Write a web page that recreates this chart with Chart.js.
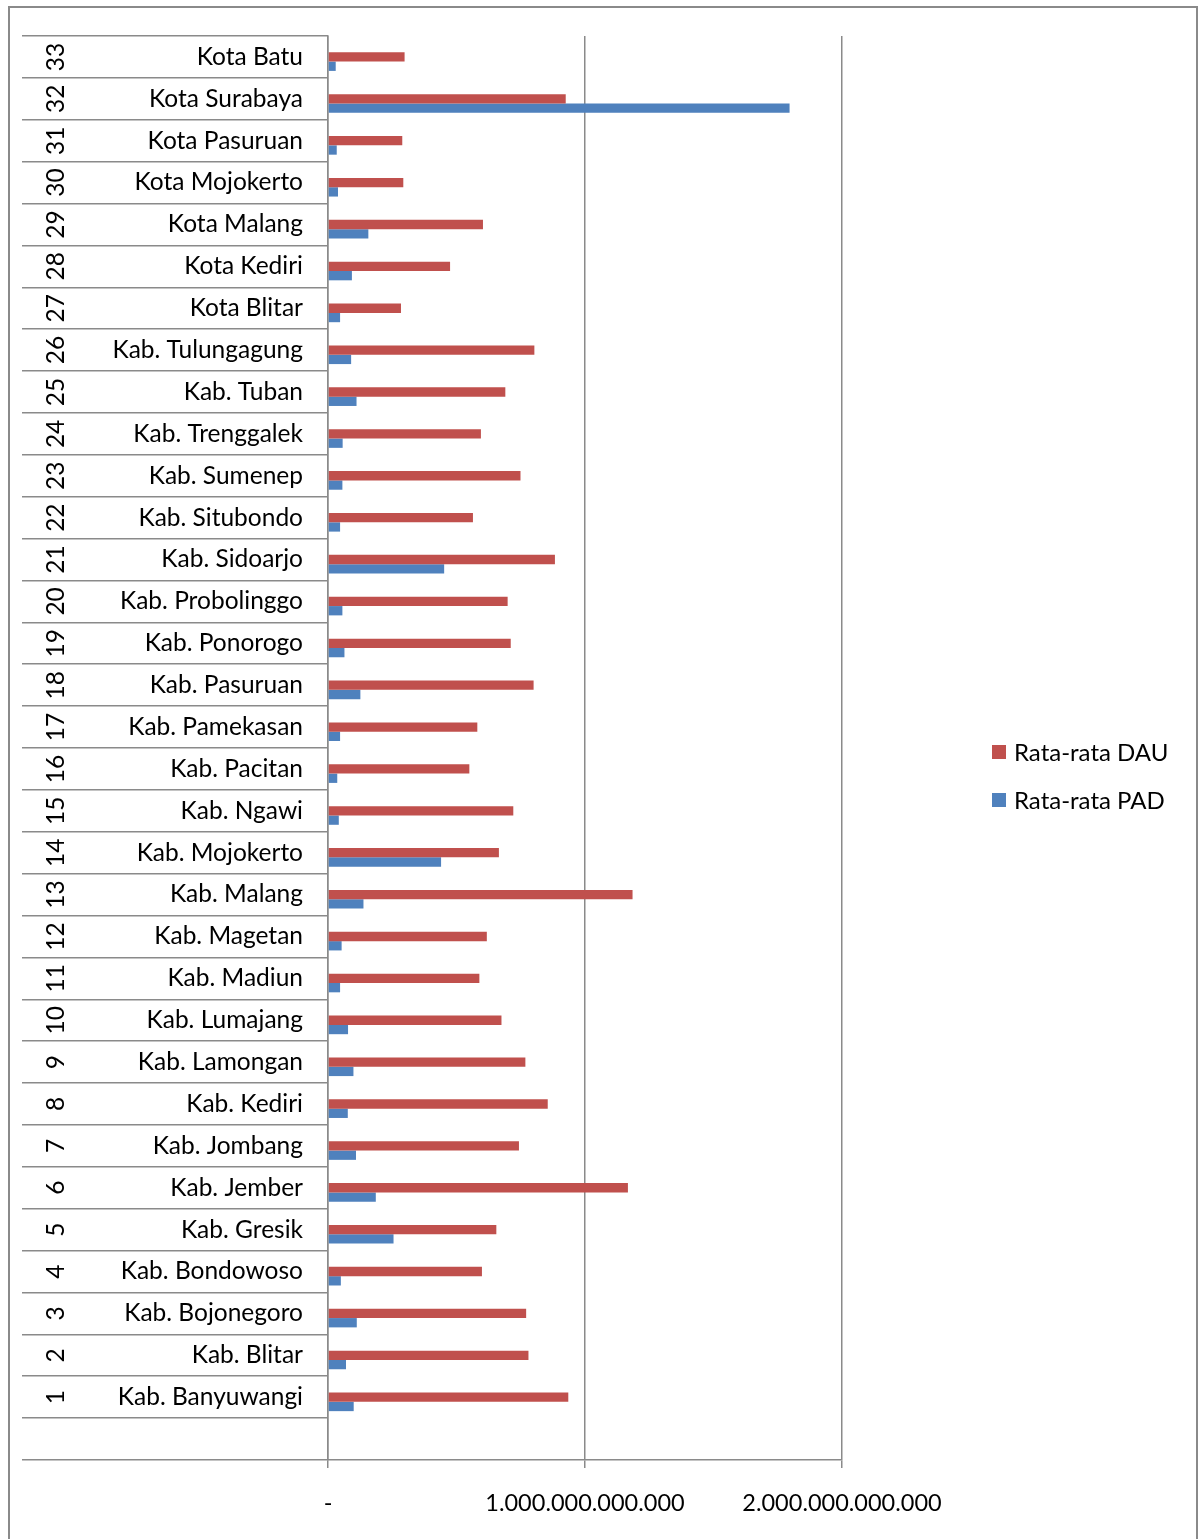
<!DOCTYPE html>
<html>
<head>
<meta charset="utf-8">
<script src="https://cdn.jsdelivr.net/npm/chart.js@4.4.1/dist/chart.umd.min.js"></script>
<style>
  html, body { margin: 0; padding: 0; background: #fff; overflow: hidden; }
  canvas { display: block; }
</style>
</head>
<body>
<canvas id="chart" width="1202" height="1539"></canvas>
<script>
// data in order 1..33 (bottom to top in the chart)
const NAMES = [
  'Kab. Banyuwangi', 'Kab. Blitar', 'Kab. Bojonegoro', 'Kab. Bondowoso', 'Kab. Gresik',
  'Kab. Jember', 'Kab. Jombang', 'Kab. Kediri', 'Kab. Lamongan', 'Kab. Lumajang',
  'Kab. Madiun', 'Kab. Magetan', 'Kab. Malang', 'Kab. Mojokerto', 'Kab. Ngawi',
  'Kab. Pacitan', 'Kab. Pamekasan', 'Kab. Pasuruan', 'Kab. Ponorogo', 'Kab. Probolinggo',
  'Kab. Sidoarjo', 'Kab. Situbondo', 'Kab. Sumenep', 'Kab. Trenggalek', 'Kab. Tuban',
  'Kab. Tulungagung', 'Kota Blitar', 'Kota Kediri', 'Kota Malang', 'Kota Mojokerto',
  'Kota Pasuruan', 'Kota Surabaya', 'Kota Batu'
];
const NUMS = NAMES.map((_, i) => String(i + 1));

const DAU = [
  935e9, 780e9, 771e9, 599e9, 655e9, 1167e9, 743e9, 855e9, 768e9, 675e9,
  589e9, 618e9, 1185e9, 665e9, 721e9, 550e9, 581e9, 800e9, 711e9, 699e9,
  883e9, 564e9, 749e9, 595e9, 690e9, 803e9, 284e9, 475e9, 603e9, 293e9,
  289e9, 925e9, 298e9
];
const PAD = [
  100e9, 70e9, 112e9, 50e9, 255e9, 186e9, 109e9, 77e9, 99e9, 78e9,
  47e9, 53e9, 138e9, 440e9, 42e9, 36e9, 47e9, 126e9, 64e9, 56e9,
  452e9, 47e9, 56e9, 57e9, 111e9, 90e9, 47e9, 93e9, 157e9, 39e9,
  34e9, 1796e9, 30e9
];
const X_TICKS = [0, 1e12, 2e12];

const SERIES = ['Rata-rata DAU', 'Rata-rata PAD'];
const COLORS = ['#C0504D', '#4F81BD'];
const GRID = '#8a8a8a';
const FONT = 'Lato, "Open Sans", sans-serif';

// top-to-bottom order, plus the empty slot under row 1
const labels = NAMES.slice().reverse().concat(['']);
const nums = NUMS.slice().reverse().concat(['']);
const dauData = DAU.slice().reverse().concat([null]);
const padData = PAD.slice().reverse().concat([null]);

function fmt(v) {
  if (v === 0) return '-';
  return String(v).replace(/\B(?=(\d{3})+(?!\d))/g, '.');
}

const tablePlugin = {
  id: 'tableLabels',
  afterDraw(chart) {
    const ctx = chart.ctx;
    const ys = chart.scales.y;
    ctx.save();
    ctx.fillStyle = '#000';
    ctx.font = '24.5px ' + FONT;
    ctx.textBaseline = 'middle';
    labels.forEach((name, i) => {
      if (!name) return;
      const y = ys.getPixelForTick(i);
      ctx.textAlign = 'right';
      ctx.fillText(name, 303, y);
      ctx.save();
      ctx.translate(56, y);
      ctx.rotate(-Math.PI / 2);
      ctx.textAlign = 'center';
      ctx.fillText(nums[i], 0, 0);
      ctx.restore();
    });

    // legend
    ctx.font = '24px ' + FONT;
    SERIES.forEach((s, i) => {
      const cy = 752 + i * 48;
      ctx.fillStyle = COLORS[i];
      ctx.fillRect(992, cy - 7, 14, 14);
      ctx.fillStyle = '#000';
      ctx.textAlign = 'left';
      ctx.fillText(s, 1014, cy + 1);
    });

    // outer frame
    ctx.strokeStyle = '#8a8a8a';
    ctx.lineWidth = 2;
    ctx.strokeRect(9, 7, 1188, 1560);
    ctx.restore();
  }
};

new Chart(document.getElementById('chart'), {
  type: 'bar',
  data: {
    labels: labels,
    datasets: [
      // empty spacer series (keeps the bar pair slightly below the row centre)
      { label: '', data: labels.map(() => null), backgroundColor: 'rgba(0,0,0,0)' },
      { label: SERIES[0], data: dauData, backgroundColor: COLORS[0] },
      { label: SERIES[1], data: padData, backgroundColor: COLORS[1] },
    ],
  },
  options: {
    indexAxis: 'y',
    responsive: false,
    animation: false,
    layout: { padding: { left: 22, right: 360, top: 36, bottom: 0 } },
    datasets: { bar: { categoryPercentage: 0.667, barPercentage: 1 } },
    plugins: { legend: { display: false }, tooltip: { enabled: false } },
    scales: {
      y: {
        grid: { drawOnChartArea: false, offset: true, tickLength: 306, color: GRID, lineWidth: 1.5 },
        border: { display: true, color: GRID, width: 1.5 },
        ticks: { display: false },
        afterFit: s => { s.width = 306; },
      },
      x: {
        min: 0, max: 2e12,
        grid: { color: GRID, lineWidth: 1.5, tickLength: 8 },
        border: { color: GRID, width: 1.5 },
        ticks: {
          callback: v => fmt(v),
          color: '#000',
          font: { family: FONT, size: 23.5 },
          padding: 21,
          maxRotation: 0,
          autoSkip: false,
        },
        afterBuildTicks: s => { s.ticks = X_TICKS.map(v => ({ value: v })); },
        afterFit: s => { s.height = 79; },
      },
    },
  },
  plugins: [tablePlugin],
});
</script>
</body>
</html>
